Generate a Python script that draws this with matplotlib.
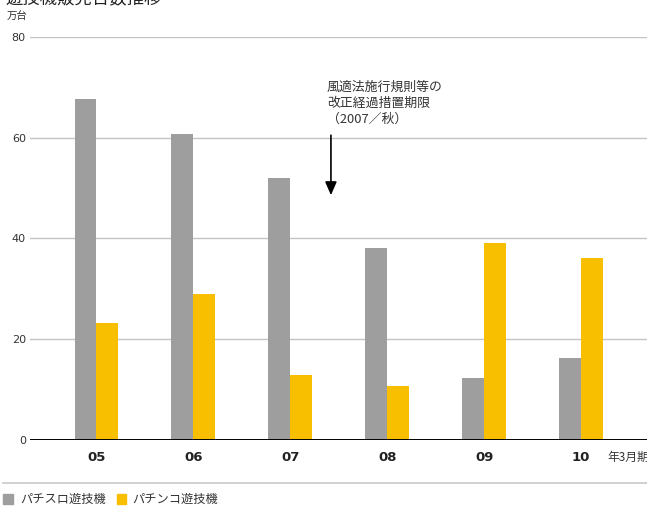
import matplotlib
matplotlib.use("Agg")
import matplotlib.pyplot as plt
import numpy as np

plt.rcParams['font.family'] = ['Noto Sans CJK JP', 'DejaVu Sans']

# Fiscal years (ending March) and units sold (10,000 units)
years = ["05", "06", "07", "08", "09", "10"]
pachislot = [67.7, 60.7, 52.0, 38.1, 12.3, 16.3]
pachinko = [23.2, 29.0, 12.9, 10.7, 39.1, 36.1]
yticks = [0, 20, 40, 60, 80]

GRAY = "#9e9e9e"
YELLOW = "#f8be00"
TEXT = "#333333"

W, H = 647, 507
fig = plt.figure(figsize=(W / 100, H / 100), dpi=100)

def px(x0, y0, x1, y1):
    return [x0 / W, 1 - y1 / H, (x1 - x0) / W, (y1 - y0) / H]

ax = fig.add_axes(px(30, 37, 647, 440))
x = np.arange(len(years))
bw = 0.225
ax.bar(x - bw / 2, pachislot, bw, color=GRAY, zorder=3)
ax.bar(x + bw / 2, pachinko, bw, color=YELLOW, zorder=3)

ax.set_xlim(-0.684, 5.68)
ax.set_ylim(0, 80)
ax.set_yticks(yticks)
ax.set_yticklabels([str(v) for v in yticks], fontsize=8, color=TEXT,
                   family=['DejaVu Sans'])
ax.tick_params(axis='y', length=0, pad=3)
for v in yticks[1:]:
    ax.axhline(v, color="#c4c4c4", lw=1.0, zorder=1)
ax.axhline(0, color="black", lw=1.4, zorder=4)

ax.set_xticks(x)
ax.set_xticklabels(years, fontsize=9.5, fontweight='bold', color="#222222",
                   family=['DejaVu Sans'])
ax.tick_params(axis='x', length=0, pad=8)
for s in ax.spines.values():
    s.set_visible(False)

# Regulation deadline marker
ax.annotate("", xy=(2.42, 48.6), xytext=(2.42, 60.5),
            arrowprops=dict(arrowstyle="-|>,head_width=0.35,head_length=0.8",
                            color="black", lw=1.2, shrinkA=0, shrinkB=0),
            zorder=5)
ax.text(2.38, 66.9, "風適法施行規則等の\n改正経過措置期限\n（2007／秋）",
        fontsize=9.3, color=TEXT, va='center', ha='left', linespacing=1.3)

# Title, unit and period labels
fig.text(5 / W, 1 + 1.5 / H, "遊技機販売台数推移", fontsize=12.5, color="#222222",
         va='center', ha='left')
fig.text(7 / W, 1 - 17 / H, "万台", fontsize=7.5, color=TEXT, va='center', ha='left')
fig.text(607 / W, 1 - 457 / H, "年3月期", fontsize=8.5, color=TEXT,
         va='center', ha='left')

# Separator line above legend
fig.add_artist(plt.Line2D([3 / W, 1.0], [1 - 483 / H, 1 - 483 / H],
                          color="#c8c8c8", lw=1.2))

# Legend
lg_y = 1 - 499 / H
fig.patches.append(plt.Rectangle((3 / W, 1 - 504 / H), 10 / W, 10 / H,
                                 color=GRAY, transform=fig.transFigure))
fig.text(20 / W, lg_y, "パチスロ遊技機", fontsize=8.8, color=TEXT,
         va='center', ha='left')
fig.patches.append(plt.Rectangle((117 / W, 1 - 504 / H), 9 / W, 10 / H,
                                 color=YELLOW, transform=fig.transFigure))
fig.text(132 / W, lg_y, "パチンコ遊技機", fontsize=8.8, color=TEXT,
         va='center', ha='left')

fig.savefig("out.png", dpi=100)
